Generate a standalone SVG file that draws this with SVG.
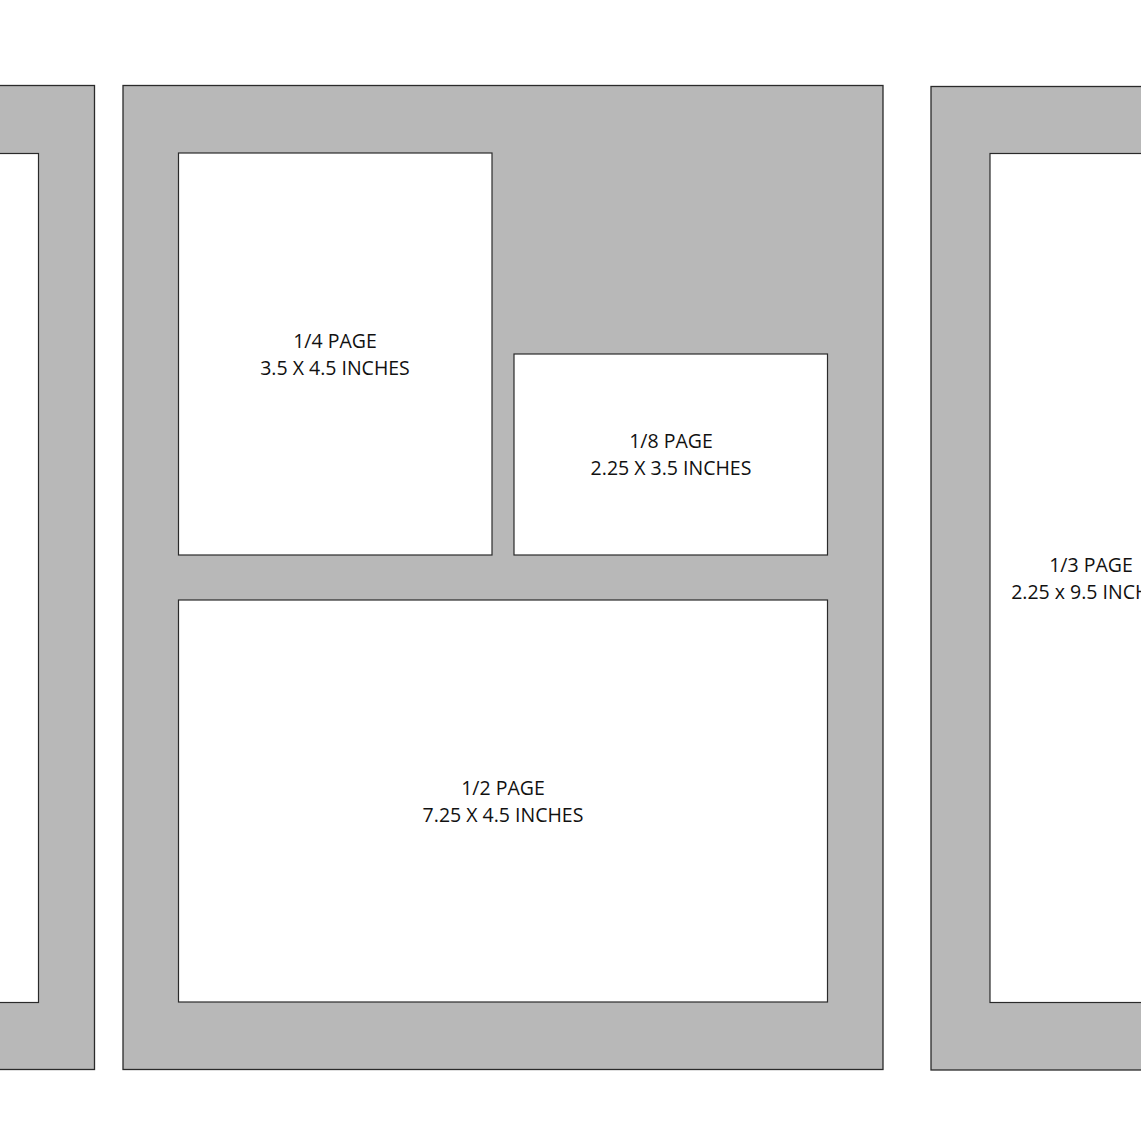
<svg xmlns="http://www.w3.org/2000/svg" width="1141" height="1141" viewBox="0 0 1141 1141">
<style>
.page{fill:#b8b8b8;stroke:#2a2a2a;stroke-width:1.3}
.box{fill:#ffffff;stroke:#2a2a2a;stroke-width:1.2}
.lbl{font-family:"Open Sans","Noto Sans",sans-serif;font-size:19.5px;fill:#111111;text-anchor:middle}
</style>
<rect width="1141" height="1141" fill="#ffffff"/>
<g id="left-page">
<rect class="page" x="-10" y="85.5" width="104.5" height="984"/>
<rect class="box" x="-10" y="153.5" width="48.5" height="849"/>
</g>
<g id="middle-page">
<rect class="page" x="123" y="85.5" width="760" height="984"/>
</g>
<g id="quarter-page">
<rect class="box" x="178.5" y="153" width="313.5" height="402"/>
<text class="lbl" x="335" y="348">1/4 PAGE</text>
<text class="lbl" x="335" y="375">3.5 X 4.5 INCHES</text>
</g>
<g id="eighth-page">
<rect class="box" x="514" y="354" width="313.5" height="201"/>
<text class="lbl" x="671" y="448">1/8 PAGE</text>
<text class="lbl" x="671" y="475">2.25 X 3.5 INCHES</text>
</g>
<g id="half-page">
<rect class="box" x="178.5" y="600" width="649" height="402"/>
<text class="lbl" x="503" y="795">1/2 PAGE</text>
<text class="lbl" x="503" y="822">7.25 X 4.5 INCHES</text>
</g>
<g id="right-page">
<rect class="page" x="931" y="86.5" width="230" height="983.5"/>
<rect class="box" x="990" y="153.5" width="200" height="849"/>
<text class="lbl" x="1091" y="572">1/3 PAGE</text>
<text class="lbl" x="1091" y="599">2.25 x 9.5 INCHES</text>
</g>
<g id="connectors"></g>
</svg>
